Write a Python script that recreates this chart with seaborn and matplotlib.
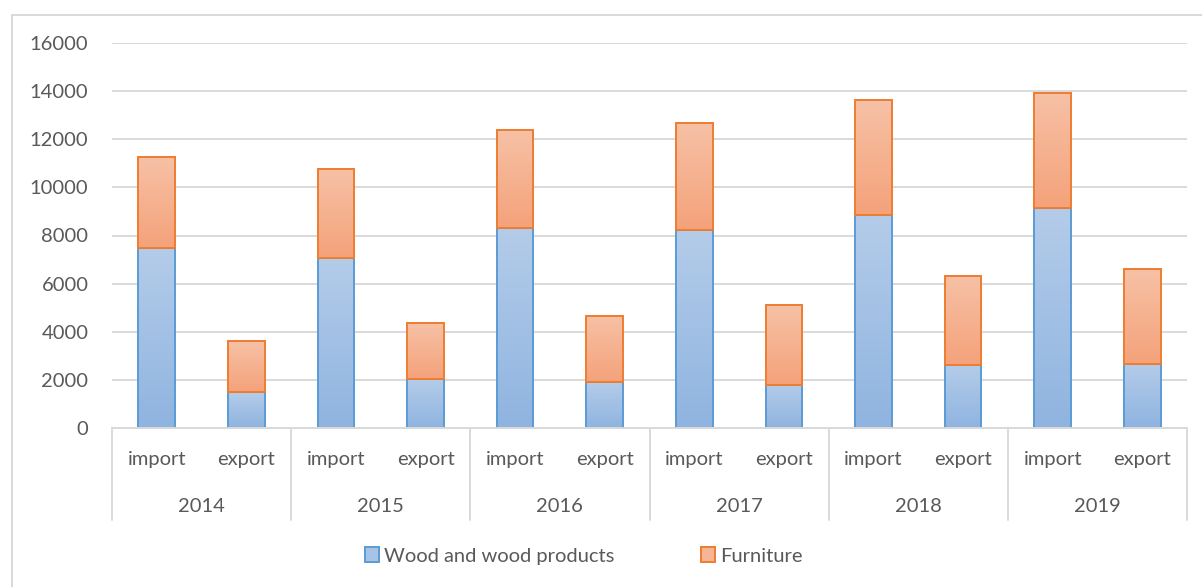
import numpy as np
import pandas as pd
import matplotlib
matplotlib.use("Agg")
import matplotlib.pyplot as plt
import matplotlib.transforms as mtransforms
from matplotlib.colors import LinearSegmentedColormap
from matplotlib.patches import Rectangle, Patch
import seaborn as sns

# ---- data ----
years = ["2014", "2015", "2016", "2017", "2018", "2019"]
flows = ["import", "export"]
wood = [7480, 1490, 7080, 2030, 8330, 1890, 8230, 1790, 8850, 2610, 9130, 2670]
furniture = [3770, 2100, 3690, 2320, 4070, 2750, 4470, 3320, 4770, 3720, 4800, 3930]
yticks = [0, 2000, 4000, 6000, 8000, 10000, 12000, 14000, 16000]

cats = [f"{y} {f}" for y in years for f in flows]
df = pd.DataFrame({"cat": cats, "wood": wood, "furniture": furniture})

sns.set_theme(style="white")
plt.rcParams["font.family"] = ["Lato", "DejaVu Sans"]

TXT = "#595959"
GRID = "#d9d9d9"
FS = 14.5

fig = plt.figure(figsize=(12.02, 5.87), dpi=100)
ax = fig.add_axes([112 / 1202, 1 - 427.7 / 587, (1187 - 112) / 1202, (427.7 - 43.3) / 587])

sns.barplot(data=df, x="cat", y="wood", order=cats, width=0.41, color="#9dbbe3",
            ax=ax, edgecolor="#5b9bd5", linewidth=1.4)
sns.barplot(data=df, x="cat", y="furniture", order=cats, width=0.41, color="#f5ae8b",
            ax=ax, edgecolor="#ed7d31", linewidth=1.4, bottom=df["wood"].to_numpy())

grad = np.linspace(0, 1, 256).reshape(-1, 1)
cm_blue = LinearSegmentedColormap.from_list("b", ["#8fb4e0", "#b4cce9"])
cm_orange = LinearSegmentedColormap.from_list("o", ["#f4a27a", "#f7c1a6"])

for cont, cmap, z in [(ax.containers[0], cm_blue, 2), (ax.containers[1], cm_orange, 3)]:
    for p in cont.patches:
        x0, y0, w, h = p.get_x(), p.get_y(), p.get_width(), p.get_height()
        im = ax.imshow(grad, extent=[x0, x0 + w, y0, y0 + h], origin="lower",
                       aspect="auto", cmap=cmap, zorder=z, interpolation="bilinear")
        im.set_clip_path(p)
        p.set_facecolor("none")
        p.set_zorder(z + 0.5)

ax.set_xlim(-0.5, len(cats) - 0.5)
ax.set_ylim(0, 16000)
ax.set_aspect("auto")

ax.set_yticks(yticks)
ax.set_yticklabels([str(v) for v in yticks])
ax.yaxis.grid(True, color=GRID, lw=1.4)
ax.set_axisbelow(True)
ax.tick_params(axis="y", length=0, pad=17, labelsize=FS, labelcolor=TXT)
ax.set_xticks(range(len(cats)))
ax.set_xticklabels([""] * len(cats))
ax.tick_params(axis="x", length=0)
ax.set_xlabel("")
ax.set_ylabel("")
for s in ["left", "right", "top"]:
    ax.spines[s].set_visible(False)
ax.spines["bottom"].set_color(GRID)
ax.spines["bottom"].set_linewidth(1.4)

trans = mtransforms.blended_transform_factory(ax.transData, ax.transAxes)
axh = 427.7 - 43.3
for b in np.arange(-0.5, len(cats), 2):
    ax.plot([b, b], [0, -(520 - 427.7) / axh], transform=trans, clip_on=False,
            color=GRID, lw=1.4)
for i, c in enumerate(cats):
    ax.text(i, -(459 - 427.7) / axh, flows[i % 2], transform=trans, ha="center",
            va="center", fontsize=FS, color=TXT)
for k, y in enumerate(years):
    ax.text(2 * k + 0.5, -(506 - 427.7) / axh, y, transform=trans, ha="center",
            va="center", fontsize=FS, color=TXT)

handles = [Patch(facecolor="#a7c3e6", edgecolor="#5b9bd5", lw=1.4, label="Wood and wood products"),
           Patch(facecolor="#f6b594", edgecolor="#ed7d31", lw=1.4, label="Furniture")]
fig.legend(handles=handles, loc="center", bbox_to_anchor=(584 / 1202, 1 - 556 / 587),
           ncol=2, frameon=False, fontsize=FS, labelcolor=TXT, handlelength=0.7,
           handleheight=0.7, handletextpad=0.25, columnspacing=4.3)

fig.patches.append(Rectangle((12 / 1202, -0.02), 1.0, (587 - 15) / 587 + 0.02,
                             transform=fig.transFigure, fill=False, ec=GRID, lw=1.4))

fig.savefig("out.png", dpi=100, facecolor="white")
